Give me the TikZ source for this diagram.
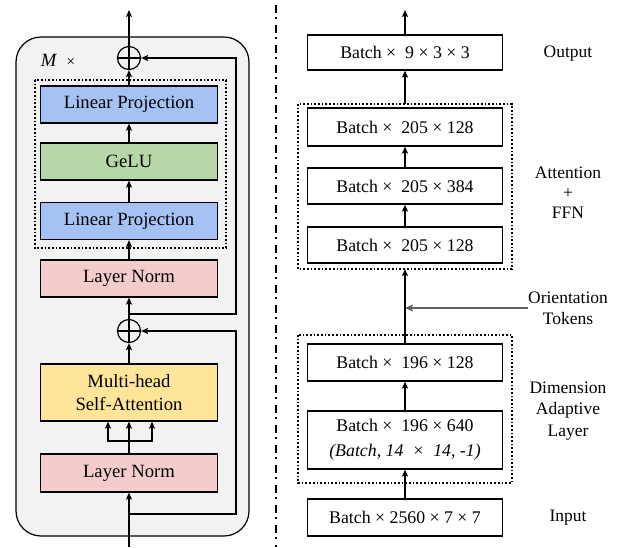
\documentclass[tikz,border=0pt]{standalone}
\usepackage{fontspec}
\setmainfont{Liberation Serif}
\usetikzlibrary{arrows.meta,calc}
\definecolor{lpblue}{HTML}{A4C2F4}
\definecolor{gelugreen}{HTML}{B6D7A8}
\definecolor{lnpink}{HTML}{F4CCCC}
\definecolor{attyellow}{HTML}{FFE599}
\definecolor{panelgray}{HTML}{F2F2F2}
\definecolor{tokgray}{HTML}{606060}
\begin{document}
\begin{tikzpicture}[x=1pt,y=-1pt,
  arr/.style={-{Stealth[length=7pt,width=6pt,inset=1.5pt]}, line width=1.3pt},
  lbox/.style={draw, line width=1.2pt, minimum width=177pt, minimum height=37pt, inner sep=0pt, font=\fontsize{18.7}{23}\selectfont, align=center},
  rbox/.style={draw, line width=1.2pt, minimum width=195pt, minimum height=37pt, inner sep=0pt, font=\fontsize{17.8}{25}\selectfont, align=center},
  lab/.style={font=\fontsize{17.5}{21}\selectfont, align=center},
  dotbox/.style={draw, line width=1.7pt, dotted},
  oplusnode/.style={circle, draw, line width=1.2pt, minimum size=23pt, inner sep=0pt}
]
\useasboundingbox (0,0) rectangle (618,547);

% ---------------- left panel ----------------
\draw[fill=panelgray, line width=1.2pt, rounded corners=25pt] (16,37) rectangle (249,536);
\node[font=\fontsize{18.7}{23}\selectfont] (mtimes) at (58,60) {\textit{M} ~{\fontsize{15}{18}\selectfont ×}};

\draw[dotbox] (35,80) rectangle (226,248);
\node[lbox, fill=lpblue] (lp1) at (129,104.5) {Linear Projection};
\node[lbox, fill=gelugreen] (gelu) at (129,161.5) {GeLU};
\node[lbox, fill=lpblue] (lp2) at (129,221) {Linear Projection};
\node[lbox, fill=lnpink] (ln2) at (129,278.5) {Layer Norm};
\node[lbox, fill=attyellow, minimum height=57pt, font=\fontsize{18.7}{23}\selectfont] (mhsa) at (129,392.5) {Multi-head\\Self-Attention};
\node[lbox, fill=lnpink, minimum height=38pt] (ln1) at (129,473) {Layer Norm};

\node[oplusnode] (op1) at (129,58) {};
\draw[line width=1.2pt] (op1.north) -- (op1.south) (op1.west) -- (op1.east);
\node[oplusnode] (op2) at (129,331) {};
\draw[line width=1.2pt] (op2.north) -- (op2.south) (op2.west) -- (op2.east);

\coordinate (outtop) at (129,10);
\coordinate (intop) at (129,547);
\coordinate (br1) at (129,314);
\coordinate (br2) at (129,514);
\coordinate (split) at (129,441);

\draw[arr] (op1.north) -- (outtop);
\draw[arr] (lp1.north) -- (op1.south);
\draw[arr] (gelu.north) -- (lp1.south);
\draw[arr] (lp2.north) -- (gelu.south);
\draw[arr] (ln2.north) -- (lp2.south);
\draw[arr] (op2.north) -- (ln2.south);
\draw[arr] (mhsa.north) -- (op2.south);
\draw[arr] (ln1.north) -- (mhsa.south);
\draw[arr] (split) -| ($(mhsa.south)+(-21,0)$);
\draw[arr] (split) -| ($(mhsa.south)+(23,0)$);
\draw[arr] (intop) -- (ln1.south);
\draw[arr] (br1) -- (236,314) -- (236,58) -- (op1.east);
\draw[arr] (br2) -- (236,514) -- (236,331) -- (op2.east);

% ---------------- divider ----------------
\draw[line width=2pt, dash pattern=on 8pt off 4pt on 2pt off 6pt] (276,5) -- (276,547);

% ---------------- right panel ----------------
\node[rbox, minimum height=35pt] (out) at (405,52.5) {Batch ×\enspace 9 × 3 × 3};
\draw[dotbox] (298,104) rectangle (512,269);
\node[rbox, minimum height=38pt] (a3) at (405,127) {Batch ×\enspace 205 × 128};
\node[rbox, minimum height=36pt] (a2) at (405,186) {Batch ×\enspace 205 × 384};
\node[rbox, minimum height=36pt] (a1) at (405,245) {Batch ×\enspace 205 × 128};
\draw[dotbox] (298,335) rectangle (512,483);
\node[rbox, minimum height=37pt] (d2) at (405,362.5) {Batch ×\enspace 196 × 128};
\node[rbox, minimum height=58pt] (d1) at (405,440) {Batch ×\enspace 196 × 640\\\textit{(Batch, 14 ~× ~14, -1)}};
\node[rbox, minimum height=37pt] (inp) at (405,517.5) {Batch × 2560 × 7 × 7};

\coordinate (rtop) at (405,10);
\coordinate (box1top) at (405,104);
\coordinate (box1bot) at (405,269);
\coordinate (tokjoin) at (405,308);
\coordinate (tokstart) at (528,308);

\draw[arr] (out.north) -- (rtop);
\draw[arr] (box1top) -- (out.south);
\draw[arr] (a2.north) -- (a3.south);
\draw[arr] (a1.north) -- (a2.south);
\draw[arr] (d2.north) -- (box1bot);
\draw[arr] (d1.north) -- (d2.south);
\draw[arr] (inp.north) -- (d1.south);
\draw[-{Stealth[length=8pt,width=7pt,inset=1.5pt]}, line width=1.4pt, draw=tokgray, fill=tokgray] (tokstart) -- (tokjoin);

\node[lab] (lout) at (568,54) {Output};
\node[lab, font=\fontsize{17.5}{20}\selectfont] (latt) at (568,193) {Attention\\+\\FFN};
\node[lab] (ltok) at (568,308.5) {Orientation\\Tokens};
\node[lab, font=\fontsize{17.5}{21.5}\selectfont] (ldim) at (568,411) {Dimension\\Adaptive\\Layer};
\node[lab] (linp) at (568,518) {Input};
\end{tikzpicture}
\end{document}
